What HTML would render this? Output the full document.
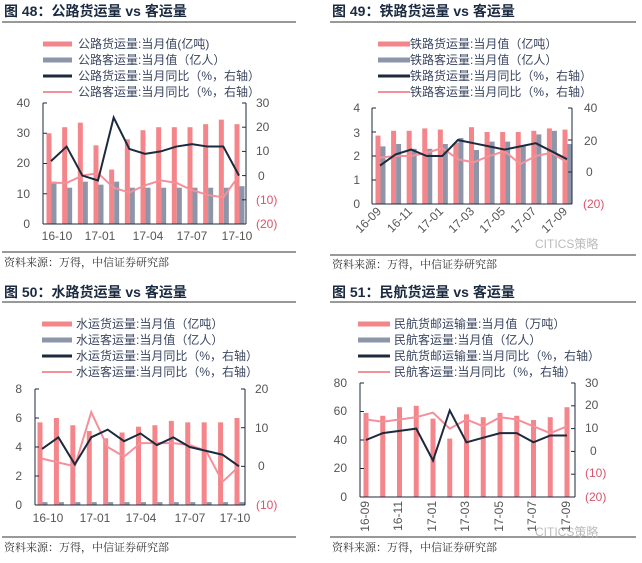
<!DOCTYPE html><html><head><meta charset="utf-8"><style>
body{margin:0;background:#fff}
svg{display:block;font-family:"Liberation Sans","Noto Sans CJK SC",sans-serif}
.t{font-size:14px;font-weight:bold;fill:#1a2a40}
.lg{font-size:12px;fill:#3a4660}
.ax{font-size:12px;fill:#555}
.rd{font-size:12px;fill:#d9536a}
.src{font-size:11px;fill:#333;font-family:"Liberation Serif","Noto Serif CJK SC",serif}
</style></head><body>
<svg id="s" width="642" height="563" viewBox="0 0 642 563">
<g stroke="#333" stroke-width="1">
<line x1="2" y1="22" x2="296" y2="22"/><line x1="330" y1="22" x2="636" y2="22"/>
<line x1="2" y1="302" x2="296" y2="302"/><line x1="330" y1="302" x2="636" y2="302"/>
<line x1="2" y1="252" x2="296" y2="252"/><line x1="330" y1="255" x2="636" y2="255"/>
<line x1="2" y1="537" x2="296" y2="537"/><line x1="330" y1="537" x2="636" y2="537"/>
</g>
<text class="t" x="4" y="16">图 48：公路货运量 vs 客运量</text>
<text class="t" x="332" y="16">图 49：铁路货运量 vs 客运量</text>
<text class="t" x="4" y="297">图 50：水路货运量 vs 客运量</text>
<text class="t" x="332" y="297">图 51：民航货运量 vs 客运量</text>
<text class="src" x="4" y="266">资料来源：万得，中信证券研究部</text>
<text class="src" x="332" y="268">资料来源：万得，中信证券研究部</text>
<text class="src" x="4" y="551">资料来源：万得，中信证券研究部</text>
<text class="src" x="332" y="551">资料来源：万得，中信证券研究部</text>
<text x="535" y="248" font-size="12" fill="#bbb">CITICS策略</text>
<text x="535" y="536" font-size="12" fill="#bbb">CITICS策略</text>
<g class="lg">
<text x="78" y="48">公路货运量:当月值(亿吨)</text><text x="78" y="64">公路客运量:当月值（亿人）</text><text x="78" y="80">公路货运量:当月同比（%，右轴）</text><text x="78" y="96">公路客运量:当月同比（%，右轴）</text>
<text x="410" y="48">铁路货运量:当月值（亿吨）</text><text x="410" y="64">铁路客运量:当月值（亿人）</text><text x="410" y="80">铁路货运量:当月同比（%，右轴）</text><text x="410" y="96">铁路客运量:当月同比（%，右轴）</text>
<text x="76" y="328">水运货运量:当月值（亿吨）</text><text x="76" y="344">水运客运量:当月值（亿人）</text><text x="76" y="360">水运货运量:当月同比（%，右轴）</text><text x="76" y="376">水运客运量:当月同比（%，右轴）</text>
<text x="394" y="328">民航货邮运输量:当月值（万吨）</text><text x="394" y="344">民航客运量:当月值（亿人）</text><text x="394" y="360">民航货邮运输量:当月同比（%，右轴）</text><text x="394" y="376">民航客运量:当月同比（%，右轴）</text>
</g>
<g stroke-width="5">
<line x1="43" y1="44" x2="72" y2="44" stroke="#f4858a"/><line x1="43" y1="60" x2="72" y2="60" stroke="#8c96a8"/>
<line x1="43" y1="76" x2="72" y2="76" stroke="#1c2a3e" stroke-width="3"/><line x1="43" y1="92" x2="72" y2="92" stroke="#f4909a" stroke-width="2"/>
<line x1="378" y1="44" x2="410" y2="44" stroke="#f4858a"/><line x1="378" y1="60" x2="410" y2="60" stroke="#8c96a8"/>
<line x1="378" y1="76" x2="410" y2="76" stroke="#1c2a3e" stroke-width="3"/><line x1="378" y1="92" x2="410" y2="92" stroke="#f4909a" stroke-width="2"/>
<line x1="42" y1="324" x2="72" y2="324" stroke="#f4858a"/><line x1="42" y1="340" x2="72" y2="340" stroke="#8c96a8"/>
<line x1="42" y1="356" x2="72" y2="356" stroke="#1c2a3e" stroke-width="3"/><line x1="42" y1="372" x2="72" y2="372" stroke="#f4909a" stroke-width="2"/>
<line x1="358" y1="324" x2="390" y2="324" stroke="#f4858a"/><line x1="358" y1="340" x2="390" y2="340" stroke="#8c96a8"/>
<line x1="358" y1="356" x2="390" y2="356" stroke="#1c2a3e" stroke-width="3"/><line x1="358" y1="372" x2="390" y2="372" stroke="#f4909a" stroke-width="2"/>
</g>
<g class="ax" text-anchor="end">
<text x="30" y="107">40</text><text x="30" y="137">30</text><text x="30" y="167">20</text><text x="30" y="198">10</text><text x="30" y="228">0</text>
<text x="360" y="112">4</text><text x="360" y="137">3</text><text x="360" y="160">2</text><text x="360" y="184">1</text><text x="360" y="208">0</text>
<text x="22" y="393">8</text><text x="22" y="422">6</text><text x="22" y="451">4</text><text x="22" y="480">2</text><text x="22" y="509">0</text>
<text x="347" y="387">80</text><text x="347" y="415">60</text><text x="347" y="444">40</text><text x="347" y="472">20</text><text x="347" y="501">0</text>
</g>
<g class="ax">
<text x="256" y="107">30</text><text x="256" y="131">20</text><text x="256" y="155">10</text><text x="258" y="180">0</text>
<text x="584" y="112">40</text><text x="584" y="145">20</text><text x="586" y="176">0</text>
<text x="255" y="393">20</text><text x="255" y="432">10</text><text x="258" y="470">0</text>
<text x="585" y="387">30</text><text x="585" y="409">20</text><text x="585" y="432">10</text><text x="590" y="455">0</text>
</g>
<g class="rd">
<text x="256" y="204">(10)</text><text x="256" y="228">(20)</text>
<text x="583" y="208">(20)</text>
<text x="256" y="509">(10)</text>
<text x="585" y="477">(10)</text><text x="585" y="501">(20)</text>
</g>
<g class="ax" text-anchor="middle">
<text x="57" y="240">16-10</text><text x="100" y="240">17-01</text><text x="148" y="240">17-04</text><text x="192" y="240">17-07</text><text x="237" y="240">17-10</text>
<text x="48" y="522">16-10</text><text x="95" y="522">17-01</text><text x="141" y="522">17-04</text><text x="190" y="522">17-07</text><text x="235" y="522">17-10</text>
</g>
<g class="ax" text-anchor="end">
<text transform="translate(382,212) rotate(-45)">16-09</text><text transform="translate(413,212) rotate(-45)">16-11</text><text transform="translate(444,212) rotate(-45)">17-01</text><text transform="translate(475,212) rotate(-45)">17-03</text><text transform="translate(506,212) rotate(-45)">17-05</text><text transform="translate(537,212) rotate(-45)">17-07</text><text transform="translate(568,212) rotate(-45)">17-09</text>
<text transform="translate(369,501) rotate(-90)">16-09</text><text transform="translate(402,501) rotate(-90)">16-11</text><text transform="translate(436,501) rotate(-90)">17-01</text><text transform="translate(469,501) rotate(-90)">17-03</text><text transform="translate(503,501) rotate(-90)">17-05</text><text transform="translate(536,501) rotate(-90)">17-07</text><text transform="translate(570,501) rotate(-90)">17-09</text>
</g>
<g id="dyn"></g>
</svg>
<script>
var NS="http://www.w3.org/2000/svg",g=document.getElementById("dyn");
function el(n,a){var e=document.createElementNS(NS,n);for(var k in a)e.setAttribute(k,a[k]);g.appendChild(e);}
function chart(c){
 var L=c.L,R=c.R,T=c.T,B=c.B,n=13,st=(c.x1-c.x0)/12;
 function yl(v){return B-(v-c.lmin)/(c.lmax-c.lmin)*(B-T);}
 function yr(v){return B-(v-c.rmin)/(c.rmax-c.rmin)*(B-T);}
 for(var i=0;i<n;i++){var x=c.x0+i*st;
  el("rect",{x:x-2.5,y:yl(c.red[i]),width:5,height:B-yl(c.red[i]),fill:"#f4858a"});
  if(c.gray)el("rect",{x:x+2.5,y:yl(c.gray[i]),width:5,height:B-yl(c.gray[i]),fill:"#8c96a8"});}
 var pk="",bk="";
 for(i=0;i<n;i++){var x=c.x0+i*st+(c.gray?2:0);pk+=x+","+yr(c.pink[i])+" ";bk+=x+","+yr(c.black[i])+" ";}
 el("polyline",{points:pk,fill:"none",stroke:"#f4909a","stroke-width":2});
 el("polyline",{points:bk,fill:"none",stroke:"#1c2a3e","stroke-width":2});
 el("line",{x1:L,y1:T,x2:L,y2:B,stroke:"#1c2a3e"});el("line",{x1:R,y1:T,x2:R,y2:B,stroke:"#1c2a3e"});
 el("line",{x1:L,y1:B,x2:R,y2:B,stroke:"#1c2a3e"});
 for(var k=0;k<c.lt;k++){var y=T+k*(B-T)/(c.lt-1);el("line",{x1:L,y1:y,x2:L+4,y2:y,stroke:"#1c2a3e"});}
 for(k=0;k<c.rt;k++){var y=T+k*(B-T)/(c.rt-1);el("line",{x1:R-4,y1:y,x2:R,y2:y,stroke:"#1c2a3e"});}
}
chart({L:43,R:246,T:103,B:224,x0:49,x1:237,lmin:0,lmax:40,rmin:-20,rmax:30,lt:5,rt:6,
red:[30,32,33.5,26,18,28,31,32,32,32,33,34.5,33],gray:[14,12,14,13,14,12,12,12,12,12,12,12,12.5],
black:[6,12,0,-2,24,11,9,10,12,13,12,12,0],pink:[-3,-3,0,1,-5,-7,-4,-2,-3,-6,-8,-9,0]});
chart({L:372,R:572,T:108,B:204,x0:378,x1:565,lmin:0,lmax:4,rmin:-20,rmax:40,lt:5,rt:4,
red:[2.85,3.05,3.05,3.15,3.1,2.55,3.2,3,3,3,3.05,3.15,3.1],gray:[2.4,2.5,2.3,2.3,2.5,2.75,2.25,2.6,2.6,2.4,2.9,3.05,2.5],
black:[4,11,14,10,10,20,18,16,14,16,18,13,8],pink:[9,10,10,12,15,8,6,10,13,5,10,12,6]});
chart({L:35,R:245,T:389,B:505,x0:40,x1:237,lmin:0,lmax:8,rmin:-10,rmax:20,lt:5,rt:4,
red:[5.7,6,5.5,5.1,4.6,5,5.4,5.5,5.8,5.7,5.7,5.7,6],gray:[.2,.2,.2,.2,.2,.2,.2,.2,.2,.2,.2,.2,.2],
black:[4.5,7.5,0.5,7.5,9.5,6.5,8.5,5.5,7.5,5,4,3,0],pink:[2,1,0,14,5,2.5,6,6,6,5.5,4,-4,0]});
chart({L:360,R:575,T:383,B:497,x0:366,x1:567,lmin:0,lmax:80,rmin:-20,rmax:30,lt:5,rt:6,
red:[59,57,63,64,55,41,58,56,59,57,54,56,63],gray:null,
black:[5,8,9,10,-4,18,4,6,8,8,4,7,7],pink:[14,13,14,15,17,10,14,11,15,14,11,8,11]});
</script>
</body></html>
